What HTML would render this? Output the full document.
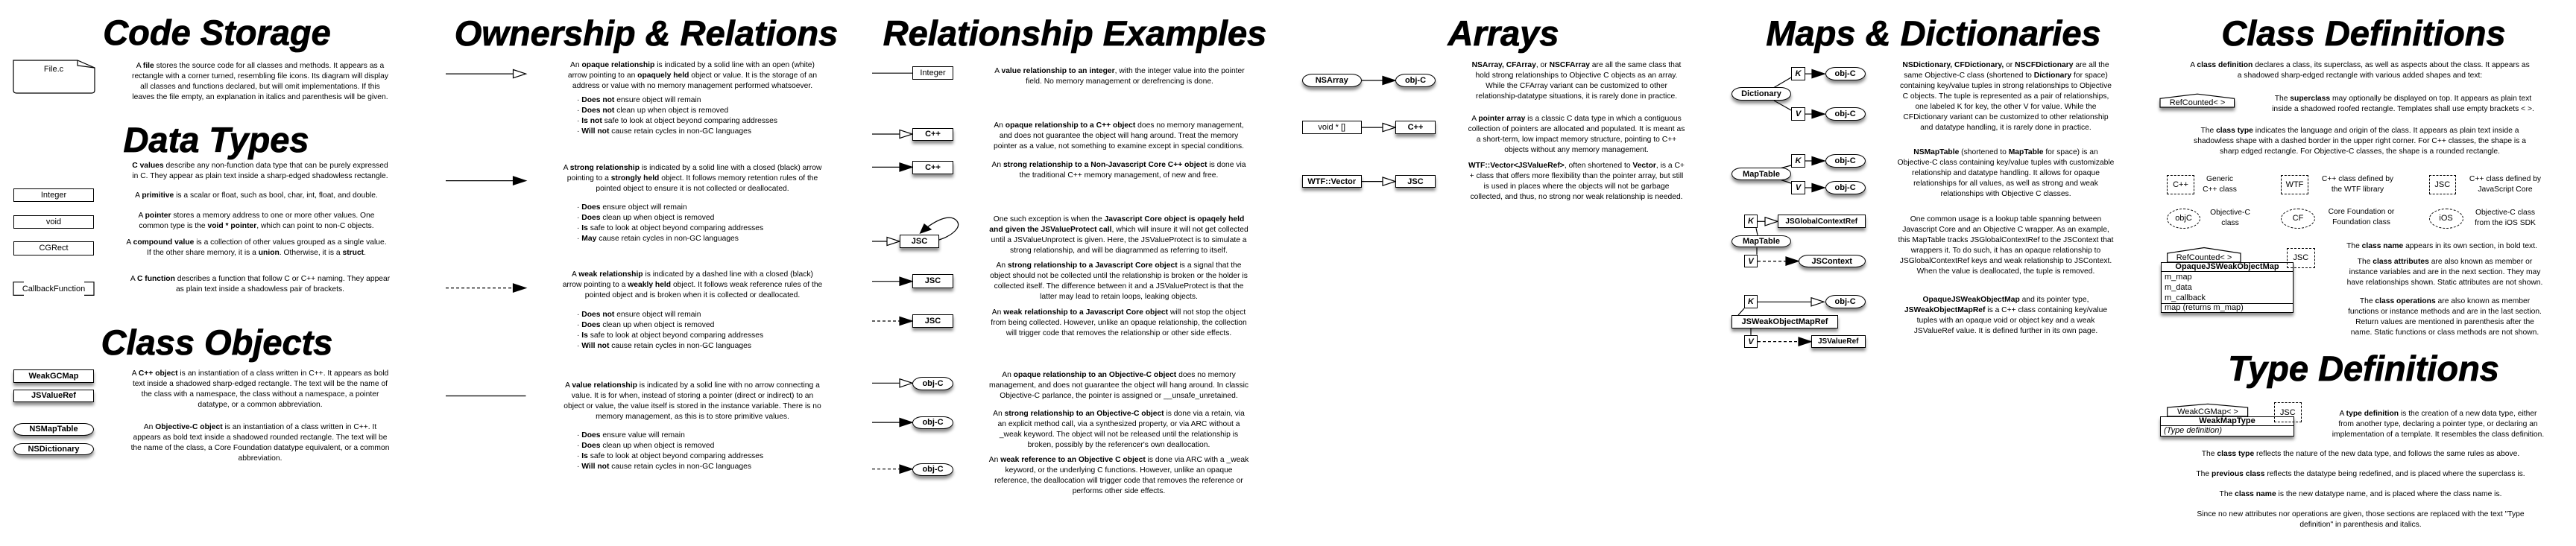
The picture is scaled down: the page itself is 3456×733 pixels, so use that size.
<!DOCTYPE html>
<html><head><meta charset="utf-8">
<style>
body{margin:0;width:3456px;height:733px;background:#fff;position:relative;overflow:hidden;font-family:"Liberation Sans",Arial,sans-serif;color:#000}
.h{position:absolute;font-style:italic;font-weight:bold;font-size:47px;line-height:47px;width:800px;text-align:center;white-space:nowrap;-webkit-text-stroke:0.8px #000}
.t{position:absolute;width:700px;font-size:10.3px;line-height:14px;text-align:center;white-space:nowrap}
.l{text-align:left;width:400px}
.b{position:absolute;box-sizing:border-box;border:1.3px solid #000;background:#fff;display:flex;align-items:center;justify-content:center;font-size:11px;white-space:nowrap}
.s{box-shadow:0 4px 4px rgba(0,0,0,.45);font-weight:bold}
.p{border-radius:14px/9px}
.d{border:1.2px dashed #000;background:transparent}
.e{border-radius:50%}
.k{font-style:italic;font-weight:bold}
svg{position:absolute;left:0;top:0}
</style></head><body>
<svg width="3456" height="733" viewBox="0 0 3456 733">
<defs><filter id="sh" x="-10%" y="-20%" width="120%" height="180%"><feDropShadow dx="0" dy="4" stdDeviation="2" flood-opacity="0.45"/></filter></defs>
<g stroke="#000" stroke-width="1.2" fill="none">
<!-- file -->
<path d="M18,81 H104 L127,91 V121 Q127,125 123,125 H22 Q18,125 18,121 Z" fill="#fff"/>
<path d="M104,81 V88 L127,91"/>
<!-- callback brackets -->
<path d="M32,378.7 H18 V396.4 H32 M113,378.7 H126 V396.4 H113"/>
<!-- col2 -->
<line x1="598" y1="99.1" x2="688.5" y2="99.1"/><polygon points="688.5,93.5 705.5,99.1 688.5,104.7" fill="#fff"/>
<line x1="598" y1="242.6" x2="688.5" y2="242.6"/><polygon points="688.5,237 705.5,242.6 688.5,248.2" fill="#000"/>
<line x1="598" y1="386.6" x2="688.5" y2="386.6" stroke-dasharray="4,3"/><polygon points="688.5,381 705.5,386.6 688.5,392.2" fill="#000"/>
<line x1="598" y1="531.5" x2="705.5" y2="531.5"/>
<!-- col3 -->
<line x1="1170" y1="98.2" x2="1224" y2="98.2"/>
<line x1="1170" y1="180" x2="1207" y2="180"/><polygon points="1207,174.4 1224,180 1207,185.6" fill="#fff"/>
<line x1="1170" y1="224.4" x2="1207" y2="224.4"/><polygon points="1207,218.8 1224,224.4 1207,230" fill="#000"/>
<line x1="1170" y1="324" x2="1190" y2="324"/><polygon points="1190,318.4 1207,324 1190,329.6" fill="#fff"/>
<path d="M1260,322 C1278,316 1290,305 1284,297 C1277,288 1262,292 1244,305"/><polygon points="1234.6,313 1240,301 1249,308" fill="#000"/>
<line x1="1170" y1="377.7" x2="1207" y2="377.7"/><polygon points="1207,372.1 1224,377.7 1207,383.3" fill="#000"/>
<line x1="1170" y1="431" x2="1207" y2="431" stroke-dasharray="4,3"/><polygon points="1207,425.4 1224,431 1207,436.6" fill="#000"/>
<line x1="1170" y1="514.3" x2="1207" y2="514.3"/><polygon points="1207,508.7 1224,514.3 1207,519.9" fill="#fff"/>
<line x1="1170" y1="567.1" x2="1207" y2="567.1"/><polygon points="1207,561.5 1224,567.1 1207,572.7" fill="#000"/>
<line x1="1170" y1="629.7" x2="1207" y2="629.7" stroke-dasharray="4,3"/><polygon points="1207,624.1 1224,629.7 1207,635.3" fill="#000"/>
<!-- col4 -->
<line x1="1827" y1="108" x2="1855" y2="108"/><polygon points="1855,102.4 1872,108 1855,113.6" fill="#000"/>
<line x1="1827" y1="171.1" x2="1855" y2="171.1"/><polygon points="1855,165.5 1872,171.1 1855,176.7" fill="#fff"/>
<line x1="1827" y1="243.6" x2="1855" y2="243.6"/><polygon points="1855,238 1872,243.6 1855,249.2" fill="#fff"/>
<!-- col5 -->
<line x1="2380" y1="117.5" x2="2403" y2="104"/><line x1="2380" y1="135" x2="2403" y2="148"/>
<line x1="2422" y1="99.1" x2="2431" y2="99.1"/><polygon points="2431,93.5 2448,99.1 2431,104.7" fill="#000"/>
<line x1="2422" y1="153.1" x2="2431" y2="153.1"/><polygon points="2431,147.5 2448,153.1 2431,158.7" fill="#000"/>
<line x1="2388" y1="226" x2="2403" y2="222"/><line x1="2388" y1="241" x2="2403" y2="246"/>
<line x1="2422" y1="216" x2="2431" y2="216"/><polygon points="2431,210.4 2448,216 2431,221.6" fill="#000"/>
<line x1="2422" y1="252" x2="2431" y2="252"/><polygon points="2431,246.4 2448,252 2431,257.6" fill="#000"/>
<line x1="2358" y1="297.3" x2="2368" y2="297.3"/><polygon points="2368,291.7 2385,297.3 2368,302.9" fill="#fff"/>
<line x1="2356" y1="306.2" x2="2358" y2="315.6"/><line x1="2357" y1="332.4" x2="2357" y2="341.7"/>
<line x1="2358" y1="350.6" x2="2396" y2="350.6" stroke-dasharray="4,3"/><polygon points="2396,345 2413,350.6 2396,356.2" fill="#000"/>
<line x1="2358" y1="405.3" x2="2430" y2="405.3"/><polygon points="2430,399.7 2447,405.3 2430,410.9" fill="#fff"/>
<line x1="2340" y1="414" x2="2332" y2="423"/><line x1="2349" y1="441" x2="2349" y2="449.7"/>
<line x1="2358" y1="458.6" x2="2413" y2="458.6" stroke-dasharray="4,3"/><polygon points="2413,453 2430,458.6 2413,464.2" fill="#000"/>
<!-- roofs -->
<polygon points="2898,144 2898,132.3 2948,126.2 2997.6,132.3 2997.6,144" fill="#fff" filter="url(#sh)"/>
<polygon points="2907.7,352 2907.7,340 2957,332.5 3006,340 3006,352" fill="#fff"/>
<polygon points="2907.7,559 2907.7,547 2962,542.3 3015.6,547 3015.6,559" fill="#fff"/>
</g>
</svg>

<!-- titles -->
<div class="h" style="left:-109px;top:20px">Code Storage</div>
<div class="h" style="left:-110px;top:164px">Data Types</div>
<div class="h" style="left:-109px;top:436px">Class Objects</div>
<div class="h" style="left:467px;top:21px">Ownership &amp; Relations</div>
<div class="h" style="left:1042px;top:21px">Relationship Examples</div>
<div class="h" style="left:1617px;top:21px">Arrays</div>
<div class="h" style="left:2194px;top:21px">Maps &amp; Dictionaries</div>
<div class="h" style="left:2771px;top:21px">Class Definitions</div>
<div class="h" style="left:2771px;top:471px">Type Definitions</div>

<!-- col1 -->
<div class="t" style="left:-278px;top:86px;width:700px;font-size:11px">File.c</div>
<div class="t" style="left:-1px;top:82px">A <b>file</b> stores the source code for all classes and methods. It appears as a<br>rectangle with a corner turned, resembling file icons. Its diagram will display<br>all classes and functions declared, but will omit implementations. If this<br>leaves the file empty, an explanation in italics and parenthesis will be given.</div>
<div class="t" style="left:-1px;top:216px"><b>C values</b> describe any non-function data type that can be purely expressed<br>in C. They appear as plain text inside a sharp-edged shadowless rectangle.</div>
<div class="b" style="left:18px;top:252.5px;width:108px;height:18px">Integer</div>
<div class="t" style="left:-6px;top:256px">A <b>primitive</b> is a scalar or float, such as bool, char, int, float, and double.</div>
<div class="b" style="left:18px;top:288.5px;width:108px;height:18px">void</div>
<div class="t" style="left:-6px;top:283px">A <b>pointer</b> stores a memory address to one or more other values. One<br>common type is the <b>void * pointer</b>, which can point to non-C objects.</div>
<div class="b" style="left:18px;top:324px;width:108px;height:18.5px">CGRect</div>
<div class="t" style="left:-6px;top:319px">A <b>compound value</b> is a collection of other values grouped as a single value.<br>If the other share memory, it is a <b>union</b>. Otherwise, it is a <b>struct</b>.</div>
<div class="t" style="left:-278px;top:381px;font-size:11px">CallbackFunction</div>
<div class="t" style="left:-1px;top:368px">A <b>C function</b> describes a function that follow C or C++ naming. They appear<br>as plain text inside a shadowless pair of brackets.</div>
<div class="b s" style="left:18px;top:495.6px;width:108px;height:18px">WeakGCMap</div>
<div class="b s" style="left:18px;top:522.7px;width:108px;height:17.5px">JSValueRef</div>
<div class="t" style="left:-1px;top:495px">A <b>C++ object</b> is an instantiation of a class written in C++. It appears as bold<br>text inside a shadowed sharp-edged rectangle. The text will be the name of<br>the class with a namespace, the class without a namespace, a pointer<br>datatype, or a common abbreviation.</div>
<div class="b s p" style="left:18px;top:568px;width:108px;height:16.5px">NSMapTable</div>
<div class="b s p" style="left:18px;top:594.7px;width:108px;height:16.8px">NSDictionary</div>
<div class="t" style="left:-1px;top:567px">An <b>Objective-C object</b> is an instantiation of a class written in C++. It<br>appears as bold text inside a shadowed rounded rectangle. The text will be<br>the name of the class, a Core Foundation datatype equivalent, or a common<br>abbreviation.</div>

<!-- col2 -->
<div class="t" style="left:579px;top:81px">An <b>opaque relationship</b> is indicated by a solid line with an open (white)<br>arrow pointing to an <b>opaquely held</b> object or value. It is the storage of an<br>address or value with no memory management performed whatsoever.</div>
<div class="t l" style="left:774px;top:128px">· <b>Does not</b> ensure object will remain<br>· <b>Does not</b> clean up when object is removed<br>· <b>Is not</b> safe to look at object beyond comparing addresses<br>· <b>Will not</b> cause retain cycles in non-GC languages</div>
<div class="t" style="left:579px;top:219px">A <b>strong relationship</b> is indicated by a solid line with a closed (black) arrow<br>pointing to a <b>strongly held</b> object. It follows memory retention rules of the<br>pointed object to ensure it is not collected or deallocated.</div>
<div class="t l" style="left:774px;top:272px">· <b>Does</b> ensure object will remain<br>· <b>Does</b> clean up when object is removed<br>· <b>Is</b> safe to look at object beyond comparing addresses<br>· <b>May</b> cause retain cycles in non-GC languages</div>
<div class="t" style="left:579px;top:362px">A <b>weak relationship</b> is indicated by a dashed line with a closed (black)<br>arrow pointing to a <b>weakly held</b> object. It follows weak reference rules of the<br>pointed object and is broken when it is collected or deallocated.</div>
<div class="t l" style="left:774px;top:416px">· <b>Does not</b> ensure object will remain<br>· <b>Does</b> clean up when object is removed<br>· <b>Is</b> safe to look at object beyond comparing addresses<br>· <b>Will not</b> cause retain cycles in non-GC languages</div>
<div class="t" style="left:579px;top:511px">A <b>value relationship</b> is indicated by a solid line with no arrow connecting a<br>value. It is for when, instead of storing a pointer (direct or indirect) to an<br>object or value, the value itself is stored in the instance variable. There is no<br>memory management, as this is to store primitive values.</div>
<div class="t l" style="left:774px;top:578px">· <b>Does</b> ensure value will remain<br>· <b>Does</b> clean up when object is removed<br>· <b>Is</b> safe to look at object beyond comparing addresses<br>· <b>Will not</b> cause retain cycles in non-GC languages</div>

<!-- col3 -->
<div class="b" style="left:1224px;top:88.8px;width:55px;height:18.7px">Integer</div>
<div class="t" style="left:1152px;top:89px">A <b>value relationship to an integer</b>, with the integer value into the pointer<br>field. No memory management or derefrencing is done.</div>
<div class="b s" style="left:1224px;top:171.6px;width:55px;height:17.7px">C++</div>
<div class="t" style="left:1151px;top:162px">An <b>opaque relationship to a C++ object</b> does no memory management,<br>and does not guarantee the object will hang around. Treat the memory<br>pointer as a value, not something to examine except in special conditions.</div>
<div class="b s" style="left:1224px;top:215.5px;width:55px;height:18.3px">C++</div>
<div class="t" style="left:1151px;top:215px">An <b>strong relationship to a Non-Javascript Core C++ object</b> is done via<br>the traditional C++ memory management, of new and free.</div>
<div class="b s" style="left:1207px;top:315px;width:53px;height:18px">JSC</div>
<div class="t" style="left:1151px;top:288px">One such exception is when the <b>Javascript Core object is opaqely held<br>and given the JSValueProtect call</b>, which will insure it will not get collected<br>until a JSValueUnprotect is given. Here, the JSValueProtect is to simulate a<br>strong relationship, and will be diagrammed as referring to itself.</div>
<div class="b s" style="left:1224px;top:368.4px;width:55px;height:18.2px">JSC</div>
<div class="t" style="left:1151px;top:350px">An <b>strong relationship to a Javascript Core object</b> is a signal that the<br>object should not be collected until the relationship is broken or the holder is<br>collected itself. The difference between it and a JSValueProtect is that the<br>latter may lead to retain loops, leaking objects.</div>
<div class="b s" style="left:1224px;top:422.2px;width:55px;height:17.8px">JSC</div>
<div class="t" style="left:1151px;top:413px">An <b>weak relationship to a Javascript Core object</b> will not stop the object<br>from being collected. However, unlike an opaque relationship, the collection<br>will trigger code that removes the relationship or other side effects.</div>
<div class="b s p" style="left:1224px;top:505.8px;width:55px;height:17.8px">obj-C</div>
<div class="t" style="left:1151px;top:497px">An <b>opaque relationship to an Objective-C object</b> does no memory<br>management, and does not guarantee the object will hang around. In classic<br>Objective-C parlance, the pointer is assigned or __unsafe_unretained.</div>
<div class="b s p" style="left:1224px;top:558.7px;width:55px;height:17.3px">obj-C</div>
<div class="t" style="left:1151px;top:549px">An <b>strong relationship to an Objective-C object</b> is done via a retain, via<br>an explicit method call, via a synthesized property, or via ARC without a<br>_weak keyword. The object will not be released until the relationship is<br>broken, possibly by the referencer's own deallocation.</div>
<div class="b s p" style="left:1224px;top:621.8px;width:55px;height:17.2px">obj-C</div>
<div class="t" style="left:1151px;top:611px">An <b>weak reference to an Objective C object</b> is done via ARC with a _weak<br>keyword, or the underlying C functions. However, unlike an opaque<br>reference, the deallocation will trigger code that removes the reference or<br>performs other side effects.</div>

<!-- col4 -->
<div class="b s p" style="left:1746.5px;top:99.1px;width:80.5px;height:17.8px">NSArray</div>
<div class="b s p" style="left:1872px;top:99.1px;width:54px;height:17.8px">obj-C</div>
<div class="t" style="left:1765px;top:81px"><b>NSArray, CFArray</b>, or <b>NSCFArray</b> are all the same class that<br>hold strong relationships to Objective C objects as an array.<br>While the CFArray variant can be customized to other<br>relationship-datatype situations, it is rarely done in practice.</div>
<div class="b" style="left:1746.5px;top:162.2px;width:80.5px;height:17.8px">void * []</div>
<div class="b s" style="left:1872px;top:162.2px;width:54px;height:17.8px">C++</div>
<div class="t" style="left:1765px;top:153px">A <b>pointer array</b> is a classic C data type in which a contiguous<br>collection of pointers are allocated and populated. It is meant as<br>a short-term, low impact memory structure, pointing to C++<br>objects without any memory management.</div>
<div class="b s" style="left:1746.5px;top:234.7px;width:80.5px;height:17.8px">WTF::Vector</div>
<div class="b s" style="left:1872px;top:234.7px;width:54px;height:17.8px">JSC</div>
<div class="t" style="left:1765px;top:216px"><b>WTF::Vector&lt;JSValueRef&gt;</b>, often shortened to <b>Vector</b>, is a C+<br>+ class that offers more flexibility than the pointer array, but still<br>is used in places where the objects will not be garbage<br>collected, and thus, no strong nor weak relationship is needed.</div>

<!-- col5 -->
<div class="b s p" style="left:2323px;top:117.3px;width:80px;height:17.8px">Dictionary</div>
<div class="b k" style="left:2403px;top:90.2px;width:19px;height:17.8px">K</div>
<div class="b k" style="left:2403px;top:144px;width:19px;height:18.2px">V</div>
<div class="b s p" style="left:2448.6px;top:90.2px;width:54px;height:17.8px">obj-C</div>
<div class="b s p" style="left:2448.6px;top:144px;width:54px;height:18.2px">obj-C</div>
<div class="t" style="left:2341px;top:81px"><b>NSDictionary, CFDictionary,</b> or <b>NSCFDictionary</b> are all the<br>same Objective-C class (shortened to <b>Dictionary</b> for space)<br>containing key/value tuples in strong relationships to Objective<br>C objects. The tuple is represented as a pair of relationships,<br>one labeled K for key, the other V for value. While the<br>CFDictionary variant can be customized to other relationship<br>and datatype handling, it is rarely done in practice.</div>
<div class="b s p" style="left:2323px;top:225.3px;width:80px;height:17px">MapTable</div>
<div class="b k" style="left:2403px;top:207.1px;width:19px;height:17.8px">K</div>
<div class="b k" style="left:2403px;top:243.1px;width:19px;height:17.8px">V</div>
<div class="b s p" style="left:2448.6px;top:207.1px;width:54px;height:17.8px">obj-C</div>
<div class="b s p" style="left:2448.6px;top:243.1px;width:54px;height:17.8px">obj-C</div>
<div class="t" style="left:2341px;top:198px"><b>NSMapTable</b> (shortened to <b>MapTable</b> for space) is an<br>Objective-C class containing key/value tuples with customizable<br>relationship and datatype handling. It allows for opaque<br>relationships for all values, as well as strong and weak<br>relationships with Objective C classes.</div>
<div class="b k" style="left:2340px;top:288.4px;width:18px;height:17.8px">K</div>
<div class="b s" style="left:2385px;top:288.4px;width:117.5px;height:17.8px;font-size:10px">JSGlobalContextRef</div>
<div class="b s p" style="left:2323px;top:315.6px;width:80px;height:16.8px">MapTable</div>
<div class="b k" style="left:2340px;top:341.7px;width:18px;height:17.8px">V</div>
<div class="b s p" style="left:2413px;top:341.7px;width:89.5px;height:17.8px">JSContext</div>
<div class="t" style="left:2341px;top:288px">One common usage is a lookup table spanning between<br>Javascript Core and an Objective C wrapper. As an example,<br>this MapTable tracks JSGlobalContextRef to the JSContext that<br>wrappers it. To do such, it has an opaque relationship to<br>JSGlobalContextRef keys and weak relationship to JSContext.<br>When the value is deallocated, the tuple is removed.</div>
<div class="b k" style="left:2340px;top:396.4px;width:18px;height:17.8px">K</div>
<div class="b s p" style="left:2448.6px;top:396.4px;width:54px;height:17.8px">obj-C</div>
<div class="b s" style="left:2323px;top:423px;width:143px;height:17.9px">JSWeakObjectMapRef</div>
<div class="b k" style="left:2340px;top:449.7px;width:18px;height:17.8px">V</div>
<div class="b s" style="left:2430px;top:449.7px;width:72.5px;height:17.8px;font-size:10px">JSValueRef</div>
<div class="t" style="left:2341px;top:396px"><b>OpaqueJSWeakObjectMap</b> and its pointer type,<br><b>JSWeakObjectMapRef</b> is a C++ class containing key/value<br>tuples with an opaque void or object key and a weak<br>JSValueRef value. It is defined further in its own page.</div>

<!-- col6 -->
<div class="t" style="left:2816px;top:81px">A <b>class definition</b> declares a class, its superclass, as well as aspects about the class. It appears as<br>a shadowed sharp-edged rectangle with various added shapes and text:</div>
<div class="t" style="left:2598px;top:131px;font-size:11px">RefCounted&lt; &gt;</div>
<div class="t" style="left:2874px;top:126px">The <b>superclass</b> may optionally be displayed on top. It appears as plain text<br>inside a shadowed roofed rectangle. Templates shall use empty brackets &lt; &gt;.</div>
<div class="t" style="left:2816px;top:169px">The <b>class type</b> indicates the language and origin of the class. It appears as plain text inside a<br>shadowless shape with a dashed border in the upper right corner. For C++ classes, the shape is a<br>sharp edged rectangle. For Objective-C classes, the shape is a rounded rectangle.</div>
<div class="b d" style="left:2907px;top:235.2px;width:37px;height:25.7px">C++</div>
<div class="t" style="left:2628px;top:234px">Generic<br>C++ class</div>
<div class="b d" style="left:3060px;top:235.2px;width:37px;height:25.7px">WTF</div>
<div class="t" style="left:2813px;top:234px">C++ class defined by<br>the WTF library</div>
<div class="b d" style="left:3258.6px;top:235.2px;width:36.4px;height:25.7px">JSC</div>
<div class="t" style="left:3011px;top:234px">C++ class defined by<br>JavaScript Core</div>
<div class="b d e" style="left:2907px;top:279.6px;width:45px;height:27px">objC</div>
<div class="t" style="left:2642px;top:279px">Objective-C<br>class</div>
<div class="b d e" style="left:3060px;top:279.6px;width:46px;height:27px">CF</div>
<div class="t" style="left:2818px;top:278px">Core Foundation or<br>Foundation class</div>
<div class="b d e" style="left:3258.6px;top:279.6px;width:46px;height:27px">iOS</div>
<div class="t" style="left:3011px;top:279px">Objective-C class<br>from the iOS SDK</div>

<div class="t" style="left:2607px;top:339px;font-size:11px">RefCounted&lt; &gt;</div>
<div style="position:absolute;left:2899px;top:351.7px;width:178px;height:68.5px;box-sizing:border-box;border:1.3px solid #000;background:#fff;box-shadow:0 4px 4px rgba(0,0,0,.45);font-size:11px;line-height:14px;white-space:nowrap">
<div style="height:11.5px;line-height:11.5px;text-align:center;font-weight:bold;border-bottom:1.2px solid #000">OpaqueJSWeakObjectMap</div>
<div style="padding-left:4px;height:42px;line-height:14px;border-bottom:1.2px solid #000">m_map<br>m_data<br>m_callback</div>
<div style="padding-left:4px;line-height:11px">map (returns m_map)</div>
</div>
<div class="b d" style="left:3068px;top:332.9px;width:37.5px;height:27px;font-size:11px">JSC</div>
<div class="t" style="left:2926px;top:324px">The <b>class name</b> appears in its own section, in bold text.</div>
<div class="t" style="left:2930px;top:345px">The <b>class attributes</b> are also known as member or<br>instance variables and are in the next section. They may<br>have relationships shown. Static attributes are not shown.</div>
<div class="t" style="left:2930px;top:398px">The <b>class operations</b> are also known as member<br>functions or instance methods and are in the last section.<br>Return values are mentioned in parenthesis after the<br>name. Static functions or class methods are not shown.</div>

<div class="t" style="left:2612px;top:546px;font-size:11px">WeakCGMap&lt; &gt;</div>
<div style="position:absolute;left:2898px;top:558.7px;width:180px;height:27px;box-sizing:border-box;border:1.3px solid #000;background:#fff;box-shadow:0 4px 4px rgba(0,0,0,.45);font-size:11px;white-space:nowrap">
<div style="height:11.5px;line-height:11.5px;text-align:center;font-weight:bold;border-bottom:1.2px solid #000">WeakMapType</div>
<div style="padding-left:4px;line-height:12px;font-style:italic">(Type definition)</div>
</div>
<div class="b d" style="left:3051px;top:540px;width:36.5px;height:27px;font-size:11px">JSC</div>
<div class="t" style="left:2921px;top:549px">A <b>type definition</b> is the creation of a new data type, either<br>from another type, declaring a pointer type, or declaring an<br>implementation of a template. It resembles the class definition.</div>
<div class="t" style="left:2817px;top:603px">The <b>class type</b> reflects the nature of the new data type, and follows the same rules as above.</div>
<div class="t" style="left:2817px;top:630px">The <b>previous class</b> reflects the datatype being redefined, and is placed where the superclass is.</div>
<div class="t" style="left:2817px;top:657px">The <b>class name</b> is the new datatype name, and is placed where the class name is.</div>
<div class="t" style="left:2817px;top:684px">Since no new attributes nor operations are given, those sections are replaced with the text "Type<br>definition" in parenthesis and italics.</div>
</body></html>
